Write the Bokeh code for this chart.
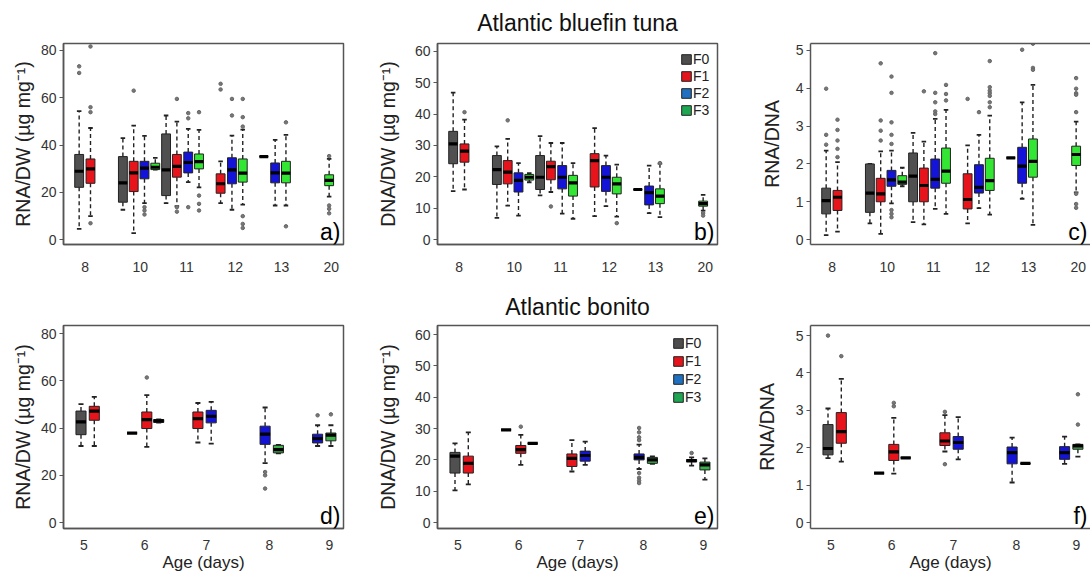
from bokeh.plotting import figure
from bokeh.layouts import column, row
from bokeh.models import Range1d, FixedTicker, LinearAxis, Label, Legend, LegendItem, ColumnDataSource
from bokeh.embed import file_html
from bokeh.resources import INLINE

FONT = "Liberation Sans"
FAMILIES = ["F0", "F1", "F2", "F3"]
TOP_COLORS = ["#505050", "#e8141c", "#1414d8", "#33e633"]
BOT_COLORS = ["#505050", "#e8141c", "#1414d8", "#3cb04a"]
LEG_COLORS = ["#4d4d4d", "#e3141c", "#1f70c1", "#1fa653"]

# ---------------- Atlantic bluefin tuna (top row) ----------------
TOP_AGE = [8, 8, 10, 10, 10, 10, 11, 11, 11, 11, 12, 12, 12, 13, 13, 13, 20]
TOP_FAM = [0, 1, 0, 1, 2, 3, 0, 1, 2, 3, 1, 2, 3, 0, 2, 3, 3]
TOP_POS = [1.45, 2.5, 5.5, 6.5, 7.5, 8.5, 9.5, 10.5, 11.55, 12.55, 14.55, 15.6, 16.6, 18.55, 19.6, 20.6, 24.6]
TOP_TICK_POS = [2.0, 7.1, 11.4, 15.9, 20.2, 24.8]
TOP_TICK_LABELS = ["8", "10", "11", "12", "13", "20"]

# a) RNA/DW
A_LO = [4.5, 9.9, 12.6, 2.7, 15.4, 29.6, 15.4, 14.1, 24.3, 22.1, 15.4, 12.6, 14.8, 35.1, 14.4, 14.4, 18.2]
A_Q1 = [22.1, 23.8, 15.8, 20.3, 25.7, 29.6, 18.6, 26.4, 28.2, 29.9, 19.6, 23.6, 24.3, 35.1, 24.0, 24.0, 22.8]
A_MED = [28.9, 29.9, 24.0, 28.2, 30.2, 30.6, 29.5, 31.0, 32.6, 33.0, 23.6, 29.5, 28.1, 35.1, 28.2, 28.1, 25.0]
A_Q3 = [36.0, 34.1, 35.1, 33.1, 33.1, 32.3, 44.7, 36.0, 37.0, 36.2, 27.8, 34.6, 34.1, 35.1, 32.4, 33.1, 27.4]
A_HI = [54.3, 47.2, 42.9, 48.2, 43.9, 34.6, 52.5, 49.9, 46.8, 46.4, 33.1, 44.0, 46.5, 35.1, 42.2, 44.3, 34.1]
A_OUT = [[73.3, 70.5], [81.7, 56.0, 53.9, 6.9], [], [63.0], [13.7, 12.3, 10.6], [], [],
         [59.5, 13.7, 11.8], [53.5, 51.3, 13.7], [53.9, 18.6, 15.1, 12.3], [65.9, 63.5],
         [59.5, 52.5], [59.5, 51.8, 47.8, 9.9, 6.6, 4.9], [], [], [49.6, 5.6],
         [35.3, 14.4, 13.0, 11.1]]

# b) DNA/DW
B_LO = [15.5, 16.0, 7.0, 10.9, 7.7, 18.3, 14.1, 15.2, 8.3, 6.7, 7.5, 10.7, 7.4, 16.0, 8.5, 7.2, 9.3]
B_Q1 = [24.2, 24.7, 17.6, 17.8, 15.2, 19.0, 16.0, 19.1, 16.2, 13.9, 16.8, 15.4, 14.6, 16.0, 11.1, 11.5, 10.7]
B_MED = [30.5, 28.2, 22.3, 21.5, 18.9, 19.9, 19.9, 23.3, 19.9, 18.1, 25.2, 19.9, 17.8, 16.0, 15.0, 13.9, 11.5]
B_Q3 = [34.5, 30.5, 26.8, 25.2, 21.3, 20.8, 26.8, 25.0, 23.6, 20.5, 27.4, 23.6, 19.9, 16.0, 17.1, 16.2, 12.3]
B_HI = [46.8, 38.2, 29.7, 32.1, 24.4, 21.2, 33.0, 30.8, 30.8, 24.4, 35.5, 26.8, 23.9, 16.0, 23.6, 24.2, 14.3]
B_OUT = [[], [40.6], [], [38.0], [], [], [], [10.6], [], [], [], [], [5.3], [], [], [24.4], [8.5, 7.7]]

# c) RNA/DNA
C_LO = [0.12, 0.21, 0.43, 0.15, 0.96, 1.41, 0.46, 0.40, 0.81, 0.68, 0.43, 0.83, 0.66, 2.16, 1.08, 0.39, 1.25]
C_Q1 = [0.68, 0.77, 0.72, 1.00, 1.41, 1.46, 1.00, 1.00, 1.36, 1.49, 0.81, 1.23, 1.30, 2.16, 1.49, 1.65, 1.96]
C_MED = [1.03, 1.12, 1.23, 1.21, 1.58, 1.52, 1.68, 1.43, 1.59, 1.81, 1.06, 1.38, 1.56, 2.16, 1.94, 2.07, 2.25]
C_Q3 = [1.36, 1.30, 2.00, 1.62, 1.83, 1.69, 2.29, 1.89, 2.13, 2.42, 1.74, 1.98, 2.15, 2.16, 2.44, 2.66, 2.47]
C_HI = [2.35, 2.05, 2.00, 2.33, 2.35, 1.90, 2.82, 2.59, 3.19, 3.43, 2.49, 2.77, 3.28, 2.16, 3.63, 4.09, 3.12]
C_OUT = [[3.99, 2.77, 2.51], [3.17, 2.90, 2.62, 2.40, 2.18], [], [4.66, 3.15, 2.88, 2.62],
         [4.31, 3.88, 3.10, 2.77, 2.53, 0.78, 0.68, 0.59], [], [], [3.92],
         [4.93, 3.88, 3.63, 3.39, 3.32], [4.09, 3.85, 3.68], [3.72], [3.37],
         [4.72, 4.03, 3.94, 3.87, 3.80, 3.63, 3.50], [], [5.02], [5.18, 4.54, 4.49],
         [4.27, 3.99, 3.87, 3.83, 3.37, 1.21, 0.94, 0.84]]

# ---------------- Atlantic bonito (bottom row) ----------------
BOT_AGE = [5, 5, 6, 6, 6, 7, 7, 8, 8, 9, 9]
BOT_FAM = [0, 1, 0, 1, 2, 1, 2, 2, 3, 2, 3]
BOT_POS = [1.25, 2.2, 4.9, 5.95, 6.8, 9.6, 10.55, 14.4, 15.35, 18.15, 19.1]
BOT_TICK_POS = [1.45, 5.8, 10.2, 14.7, 19.0]
BOT_TICK_LABELS = ["5", "6", "7", "8", "9"]

# d) RNA/DW
D_LO = [32.4, 32.4, 37.9, 32.0, 42.3, 33.9, 33.4, 25.2, 29.3, 32.4, 32.4]
D_Q1 = [37.2, 43.3, 37.9, 39.8, 42.4, 39.8, 42.2, 33.1, 29.5, 33.7, 34.6]
D_MED = [42.6, 47.2, 37.9, 43.6, 43.0, 44.0, 45.0, 37.4, 30.9, 35.5, 37.0]
D_Q3 = [47.2, 49.2, 37.9, 46.8, 43.6, 46.8, 47.5, 40.8, 32.7, 37.4, 37.9]
D_HI = [50.1, 53.2, 37.9, 53.9, 43.7, 50.6, 51.1, 48.7, 32.9, 41.2, 41.2]
D_OUT = [[], [], [], [61.4], [], [], [], [21.4, 20.0, 14.4], [], [45.4], [45.8]]

# e) DNA/DW
E_LO = [10.3, 12.2, 29.6, 18.4, 25.3, 16.3, 18.4, 17.1, 18.7, 18.2, 13.7]
E_Q1 = [15.8, 15.8, 29.6, 22.1, 25.3, 17.9, 19.6, 20.0, 18.9, 19.3, 16.8]
E_MED = [21.2, 18.9, 29.6, 23.3, 25.3, 20.5, 21.4, 20.8, 20.0, 19.8, 18.4]
E_Q3 = [22.4, 21.2, 29.6, 24.6, 25.3, 21.9, 22.8, 21.9, 20.8, 20.1, 19.3]
E_HI = [25.3, 28.8, 29.6, 28.0, 25.3, 26.3, 25.8, 24.9, 21.1, 20.8, 20.5]
E_OUT = [[], [], [], [30.6], [], [], [], [30.2, 28.8, 27.2, 26.3, 15.8, 14.3, 13.4, 12.6], [], [22.2], []]

# f) RNA/DNA
F_LO = [1.72, 1.63, 1.32, 1.31, 1.73, 1.90, 1.69, 1.07, 1.58, 1.57, 1.76]
F_Q1 = [1.81, 2.12, 1.32, 1.66, 1.73, 2.06, 1.96, 1.57, 1.58, 1.69, 1.96]
F_MED = [1.98, 2.43, 1.32, 1.89, 1.73, 2.18, 2.14, 1.87, 1.58, 1.87, 2.05]
F_Q3 = [2.62, 2.94, 1.32, 2.09, 1.73, 2.40, 2.30, 2.02, 1.58, 2.03, 2.09]
F_HI = [3.05, 3.84, 1.32, 2.80, 1.73, 2.87, 2.82, 2.27, 1.58, 2.30, 2.09]
F_OUT = [[5.0], [4.45], [], [3.20, 3.11], [], [2.96, 1.56], [], [], [], [], [3.43, 2.62]]

YLAB_DW_RNA = "RNA/DW (\u00b5g mg\u207b\u00b9)"
YLAB_DW_DNA = "DNA/DW (\u00b5g mg\u207b\u00b9)"
YLAB_RATIO = "RNA/DNA"


def make_fig(width, height, bl, br, bt, bb, xr, yr, title=None, title_standoff=10, outline=True):
    kw = dict(width=width, height=height, output_backend="svg", toolbar_location=None,
              x_range=Range1d(*xr), y_range=Range1d(*yr),
              min_border_left=bl, min_border_right=br, min_border_top=bt, min_border_bottom=bb)
    if title:
        kw["title"] = title
    p = figure(**kw)
    p.xgrid.visible = False
    p.ygrid.visible = False
    p.background_fill_color = "white"
    p.border_fill_color = "white"
    if outline:
        p.outline_line_color = "#555555"
        p.outline_line_width = 1.5
    else:
        p.outline_line_color = None
    if title:
        p.title.align = "center"
        p.title.text_font = FONT
        p.title.text_font_size = "23px"
        p.title.text_font_style = "normal"
        p.title.text_color = "#111111"
        p.title.standoff = title_standoff
    return p


def style_axes(p, xticks, xlabels, yticks, ylabel, ylab_standoff, x_standoff, xlabel=None):
    xa = p.below[0]
    xa.ticker = FixedTicker(ticks=xticks)
    xa.major_label_overrides = {t: l for t, l in zip(xticks, xlabels)}
    xa.major_tick_line_color = None
    xa.minor_tick_line_color = None
    xa.major_label_standoff = x_standoff
    xa.major_label_text_font = FONT
    xa.major_label_text_font_size = "14px"
    xa.major_label_text_color = "#333333"
    xa.axis_line_color = "#555555"
    xa.axis_line_width = 1.5
    if xlabel:
        xa.axis_label = xlabel
        xa.axis_label_text_font = FONT
        xa.axis_label_text_font_size = "17px"
        xa.axis_label_text_font_style = "normal"
        xa.axis_label_text_color = "#222222"
        xa.axis_label_standoff = 0
    ya = p.left[0]
    ya.ticker = FixedTicker(ticks=yticks)
    ya.major_tick_out = 4
    ya.major_tick_in = 0
    ya.major_tick_line_color = "#555555"
    ya.minor_tick_line_color = None
    ya.major_label_standoff = 3
    ya.major_label_text_font = FONT
    ya.major_label_text_font_size = "14px"
    ya.major_label_text_color = "#333333"
    ya.axis_line_color = "#555555"
    ya.axis_line_width = 1.5
    ya.axis_label = ylabel
    ya.axis_label_text_font = FONT
    ya.axis_label_text_font_size = "19.5px"
    ya.axis_label_text_font_style = "normal"
    ya.axis_label_text_color = "#222222"
    ya.axis_label_standoff = ylab_standoff


def add_top_line(p):
    top = LinearAxis(ticker=FixedTicker(ticks=[]), major_label_text_font_size="0px",
                     major_tick_line_color=None, minor_tick_line_color=None,
                     axis_line_color="#555555", axis_line_width=1.5)
    p.add_layout(top, "above")


def draw_boxes(p, pos, fam, lo, q1, med, q3, hi, out, colors, bw, sw):
    src = ColumnDataSource(dict(
        x=pos, lo=lo, q1=q1, med=med, q3=q3, hi=hi,
        left=[x - bw / 2 for x in pos], right=[x + bw / 2 for x in pos],
        sl=[x - sw / 2 for x in pos], sr=[x + sw / 2 for x in pos],
        color=[colors[f] for f in fam]))
    p.segment(x0="x", y0="q3", x1="x", y1="hi", source=src, line_color="#222222",
              line_width=1.4, line_dash="4 3")
    p.segment(x0="x", y0="q1", x1="x", y1="lo", source=src, line_color="#222222",
              line_width=1.4, line_dash="4 3")
    p.segment(x0="sl", y0="hi", x1="sr", y1="hi", source=src, line_color="#222222", line_width=1.8)
    p.segment(x0="sl", y0="lo", x1="sr", y1="lo", source=src, line_color="#222222", line_width=1.8)
    p.vbar(x="x", width=bw, top="q3", bottom="q1", source=src, fill_color="color",
           line_color="#222222", line_width=1)
    p.segment(x0="left", y0="med", x1="right", y1="med", source=src, line_color="black",
              line_width=3.2)
    ox, oy = [], []
    for x, vals in zip(pos, out):
        for v in vals:
            ox.append(x)
            oy.append(v)
    p.scatter(x=ox, y=oy, marker="circle", size=3.5, fill_color="#777777", line_color="#666666")


def add_label(p, txt):
    p.add_layout(Label(x=p.x_range.end, y=p.y_range.start, text=txt, text_align="right",
                       text_baseline="bottom", x_offset=-3, y_offset=0, text_font=FONT,
                       text_font_size="23px", text_color="black"))


def add_legend(p, loc, spacing):
    nan = float("nan")
    items = []
    for k in range(4):
        r = p.quad(left=[nan], right=[nan], top=[nan], bottom=[nan],
                   fill_color=LEG_COLORS[k], line_color="#222222")
        items.append(LegendItem(label=FAMILIES[k], renderers=[r]))
    leg = Legend(items=items, location=loc, border_line_color=None,
                 background_fill_alpha=0, label_text_font=FONT, label_text_font_size="14px",
                 label_text_color="#222222", glyph_width=12, glyph_height=12, label_height=12,
                 label_standoff=1, spacing=spacing, padding=0, margin=0)
    p.add_layout(leg)


TOP_XR = (0, 25.93)
BOT_XR = (0, 20.0)

# top row
pa = make_fig(360, 285, 63, 17, 43, 41, TOP_XR, (-2.1, 82.96))
style_axes(pa, TOP_TICK_POS, TOP_TICK_LABELS, [0, 20, 40, 60, 80], YLAB_DW_RNA, 4, 11)
draw_boxes(pa, TOP_POS, TOP_FAM, A_LO, A_Q1, A_MED, A_Q3, A_HI, A_OUT, TOP_COLORS, 0.82, 0.42)
add_label(pa, "a)")

pb = make_fig(390, 285, 77, 33, 43, 41, TOP_XR, (-1.5, 62.45), title="Atlantic bluefin tuna",
              title_standoff=15)
style_axes(pb, TOP_TICK_POS, TOP_TICK_LABELS, [0, 10, 20, 30, 40, 50, 60], YLAB_DW_DNA, 13, 11)
draw_boxes(pb, TOP_POS, TOP_FAM, B_LO, B_Q1, B_MED, B_Q3, B_HI, B_OUT, TOP_COLORS, 0.82, 0.42)
add_legend(pb, (243, 126), 1)
add_label(pb, "b)")

pc = make_fig(340, 285, 60, 0, 43, 41, TOP_XR, (-0.13, 5.185), outline=False)
style_axes(pc, TOP_TICK_POS, TOP_TICK_LABELS, [0, 1, 2, 3, 4, 5], YLAB_RATIO, 10, 11)
add_top_line(pc)
draw_boxes(pc, TOP_POS, TOP_FAM, C_LO, C_Q1, C_MED, C_Q3, C_HI, C_OUT, TOP_COLORS, 0.82, 0.42)
add_label(pc, "c)")

# bottom row
pd_ = make_fig(360, 291, 63, 17, 40, 48, BOT_XR, (-2.5, 83.4))
style_axes(pd_, BOT_TICK_POS, BOT_TICK_LABELS, [0, 20, 40, 60, 80], YLAB_DW_RNA, 4, 5, "Age (days)")
draw_boxes(pd_, BOT_POS, BOT_FAM, D_LO, D_Q1, D_MED, D_Q3, D_HI, D_OUT, BOT_COLORS, 0.72, 0.36)
add_label(pd_, "d)")

pe = make_fig(390, 291, 77, 33, 40, 48, BOT_XR, (-1.9, 62.9), title="Atlantic bonito",
              title_standoff=12)
style_axes(pe, BOT_TICK_POS, BOT_TICK_LABELS, [0, 10, 20, 30, 40, 50, 60], YLAB_DW_DNA, 13, 5, "Age (days)")
draw_boxes(pe, BOT_POS, BOT_FAM, E_LO, E_Q1, E_MED, E_Q3, E_HI, E_OUT, BOT_COLORS, 0.72, 0.36)
add_legend(pe, (235, 123), 2)
add_label(pe, "e)")

pf = make_fig(340, 291, 60, 0, 40, 48, BOT_XR, (-0.16, 5.27), outline=False)
style_axes(pf, BOT_TICK_POS, BOT_TICK_LABELS, [0, 1, 2, 3, 4, 5], YLAB_RATIO, 15, 5, "Age (days)")
add_top_line(pf)
draw_boxes(pf, BOT_POS, BOT_FAM, F_LO, F_Q1, F_MED, F_Q3, F_HI, F_OUT, BOT_COLORS, 0.72, 0.36)
add_label(pf, "f)")

layout = column(row(pa, pb, pc), row(pd_, pe, pf))
open("out.html", "w").write(file_html(layout, INLINE))
